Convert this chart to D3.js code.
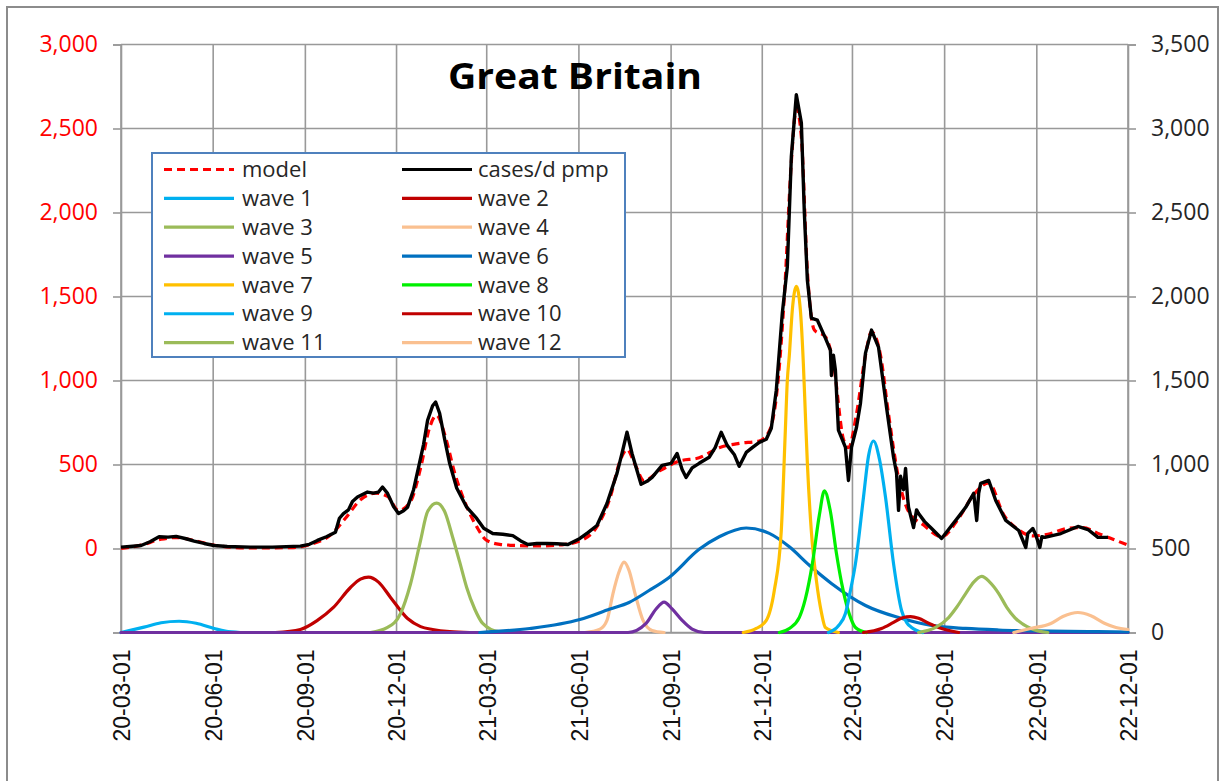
<!DOCTYPE html>
<html>
<head>
<meta charset="utf-8">
<script src="https://cdn.jsdelivr.net/npm/d3@7"></script>
<style>
  body { margin: 0; background: #fff; }
  svg { display: block; }
</style>
</head>
<body>
<svg id="chart" width="1225" height="781"></svg>
<script>
// ---- data -------------------------------------------------------------
const chartTitle = "Great Britain";
const dateTicks = ["2020-03-01","2020-06-01","2020-09-01","2020-12-01","2021-03-01","2021-06-01",
                   "2021-09-01","2021-12-01","2022-03-01","2022-06-01","2022-09-01","2022-12-01"];
const leftTicks = [0, 500, 1000, 1500, 2000, 2500, 3000];
const rightTicks = [0, 500, 1000, 1500, 2000, 2500, 3000, 3500];
const leftRange = [-500, 3000];
const rightRange = [0, 3500];

// daily cases per million (left axis)
const casesData = [
  ["2020-03-01",8],["2020-03-10",12],["2020-03-21",18],["2020-03-30",40],["2020-04-08",70],
  ["2020-04-17",68],["2020-04-25",72],["2020-05-05",58],["2020-05-13",44],["2020-05-23",30],
  ["2020-06-02",18],["2020-06-15",12],["2020-07-08",8],["2020-07-30",8],["2020-08-27",14],
  ["2020-09-05",25],["2020-09-13",48],["2020-09-22",70],["2020-10-01",97],["2020-10-05",180],
  ["2020-10-09",208],["2020-10-14",230],["2020-10-18",280],["2020-10-23",306],["2020-11-02",336],
  ["2020-11-08",330],["2020-11-13",336],["2020-11-17",366],["2020-11-22",328],["2020-11-28",250],
  ["2020-12-03",208],["2020-12-08",225],["2020-12-12",246],["2020-12-18",350],["2020-12-23",485],
  ["2020-12-28",620],["2021-01-01",763],["2021-01-06",850],["2021-01-09",872],["2021-01-13",805],
  ["2021-01-18",650],["2021-01-23",507],["2021-01-30",360],["2021-02-09",246],["2021-02-19",179],
  ["2021-02-26",120],["2021-03-07",89],["2021-03-17",85],["2021-03-27",77],["2021-04-04",45],
  ["2021-04-11",24],["2021-04-20",30],["2021-04-30",30],["2021-05-10",28],["2021-05-21",24],
  ["2021-06-02",60],["2021-06-10",95],["2021-06-19",137],["2021-06-29",268],["2021-07-09",447],
  ["2021-07-14",566],["2021-07-19",692],["2021-07-24",566],["2021-08-02",382],["2021-08-08",400],
  ["2021-08-13",423],["2021-08-23",495],["2021-09-01",507],["2021-09-07",566],["2021-09-12",470],
  ["2021-09-16",423],["2021-09-22",480],["2021-09-29",507],["2021-10-09",543],["2021-10-15",600],
  ["2021-10-21",692],["2021-10-27",614],["2021-11-03",560],["2021-11-08",489],["2021-11-15",572],
  ["2021-11-21",600],["2021-11-28",632],["2021-12-05",650],["2021-12-10",716],["2021-12-15",942],
  ["2021-12-21",1401],["2021-12-26",1676],["2021-12-30",2332],["2022-01-04",2701],["2022-01-09",2534],
  ["2022-01-12",1998],["2022-01-15",1598],["2022-01-19",1371],["2022-01-25",1359],["2022-02-02",1252],
  ["2022-02-07",1181],["2022-02-08",1030],["2022-02-10",1150],["2022-02-12",1061],["2022-02-15",704],
  ["2022-02-22",602],["2022-02-25",405],["2022-02-28",602],["2022-03-05",720],["2022-03-09",865],
  ["2022-03-14",1163],["2022-03-20",1300],["2022-03-27",1199],["2022-04-04",841],["2022-04-11",543],
  ["2022-04-14",450],["2022-04-16",227],["2022-04-18",430],["2022-04-21",350],["2022-04-23",477],
  ["2022-04-25",300],["2022-04-26",245],["2022-05-01",125],["2022-05-04",230],["2022-05-06",208],
  ["2022-05-12",160],["2022-05-19",119],["2022-05-29",60],["2022-06-08",137],["2022-06-15",190],
  ["2022-06-22",245],["2022-06-30",328],["2022-07-03",167],["2022-07-05",330],["2022-07-07",388],
  ["2022-07-15",405],["2022-07-22",286],["2022-08-01",167],["2022-08-14",107],["2022-08-21",6],
  ["2022-08-23",90],["2022-08-28",119],["2022-08-31",80],["2022-09-04",6],["2022-09-06",70],
  ["2022-09-09",66],["2022-09-25",89],["2022-10-12",131],["2022-10-22",113],["2022-11-01",66],
  ["2022-11-11",66]
];

// fitted model (left axis)
const modelData = [
  ["2020-03-01",0],["2020-03-21",20],["2020-04-10",55],["2020-04-25",65],["2020-05-15",45],
  ["2020-06-04",18],["2020-07-08",3],["2020-08-17",5],["2020-09-06",25],["2020-09-26",80],
  ["2020-10-11",180],["2020-10-26",290],["2020-11-10",330],["2020-11-22",310],["2020-12-03",226],
  ["2020-12-15",280],["2020-12-25",480],["2021-01-03",720],["2021-01-10",793],["2021-01-18",680],
  ["2021-01-28",450],["2021-02-09",250],["2021-02-19",130],["2021-03-01",48],["2021-03-14",25],
  ["2021-03-31",18],["2021-04-23",15],["2021-05-18",25],["2021-06-02",45],["2021-06-19",130],
  ["2021-07-02",300],["2021-07-12",520],["2021-07-19",590],["2021-07-27",500],["2021-08-05",404],
  ["2021-08-20",460],["2021-09-09",520],["2021-09-29",540],["2021-10-19",600],["2021-11-08",626],
  ["2021-11-28",640],["2021-12-08",700],["2021-12-15",900],["2021-12-23",1500],["2021-12-30",2300],
  ["2022-01-04",2620],["2022-01-09",2450],["2022-01-15",1650],["2022-01-22",1300],["2022-02-02",1260],
  ["2022-02-10",1100],["2022-02-20",650],["2022-02-25",600],["2022-03-05",800],["2022-03-14",1150],
  ["2022-03-20",1290],["2022-03-29",1150],["2022-04-06",800],["2022-04-16",420],["2022-04-26",220],
  ["2022-05-11",140],["2022-05-29",70],["2022-06-15",180],["2022-06-30",320],["2022-07-15",390],
  ["2022-07-30",200],["2022-08-14",110],["2022-08-28",75],["2022-09-12",85],["2022-10-02",120],
  ["2022-10-17",125],["2022-11-01",90],["2022-11-16",55],["2022-12-01",20]
];

// individual waves (right axis)
const wave1 = [["2020-03-01",0],["2020-03-24",32],["2020-04-10",58],["2020-04-28",67],["2020-05-15",55],
  ["2020-06-02",24],["2020-06-13",8],["2020-06-28",0]];
const wave2 = [["2020-08-02",0],["2020-08-27",18],["2020-09-13",72],["2020-09-29",149],["2020-10-16",268],
  ["2020-10-26",318],["2020-11-03",330],["2020-11-13",300],["2020-11-25",209],["2020-12-12",83],
  ["2020-12-25",35],["2021-01-06",18],["2021-01-23",5],["2021-02-12",0]];
const wave3 = [["2020-11-05",0],["2020-11-22",30],["2020-12-05",113],["2020-12-15",290],["2020-12-25",549],
  ["2021-01-01",720],["2021-01-10",770],["2021-01-18",720],["2021-01-26",567],["2021-02-02",420],
  ["2021-02-09",268],["2021-02-17",140],["2021-02-25",54],["2021-03-13",5],["2021-03-29",0]];
const wave4 = [["2021-06-07",0],["2021-06-22",20],["2021-06-29",72],["2021-07-05",232],["2021-07-11",360],
  ["2021-07-16",419],["2021-07-21",370],["2021-07-27",232],["2021-08-04",72],["2021-08-13",12],
  ["2021-08-25",0]];
const wave5 = [["2020-03-01",0],["2021-07-20",0],["2021-08-07",54],["2021-08-17",140],["2021-08-25",181],
  ["2021-09-02",140],["2021-09-12",72],["2021-09-22",20],["2021-10-04",0],["2022-12-01",0]];
const wave6 = [["2021-02-22",0],["2021-04-13",24],["2021-06-02",77],["2021-07-02",140],["2021-07-21",179],
  ["2021-08-10",250],["2021-08-30",328],["2021-09-29",495],["2021-10-19",570],["2021-11-15",622],
  ["2021-12-08",590],["2021-12-28",510],["2022-01-17",400],["2022-02-08",292],["2022-03-14",161],
  ["2022-04-16",89],["2022-05-19",42],["2022-06-22",24],["2022-07-25",15],["2022-08-26",10],
  ["2022-11-01",5],["2022-12-01",3]];
const wave7 = [["2021-11-12",0],["2021-11-25",24],["2021-12-05",72],["2021-12-13",250],["2021-12-20",608],
  ["2021-12-24",1200],["2021-12-26",1500],["2021-12-28",1650],["2021-12-31",1920],["2022-01-04",2060],
  ["2022-01-08",1920],["2022-01-11",1600],["2022-01-13",1300],["2022-01-15",1008],["2022-01-19",600],
  ["2022-01-24",310],["2022-01-29",120],["2022-02-02",30],["2022-02-15",0]];
const wave8 = [["2021-12-18",0],["2021-12-28",24],["2022-01-07",90],["2022-01-13",200],["2022-01-20",410],
  ["2022-01-27",700],["2022-02-01",843],["2022-02-07",720],["2022-02-13",471],["2022-02-18",300],
  ["2022-02-22",191],["2022-02-27",90],["2022-03-04",30],["2022-03-15",0]];
const wave9 = [["2022-02-05",0],["2022-02-15",40],["2022-02-22",113],["2022-02-27",250],["2022-03-04",410],
  ["2022-03-12",805],["2022-03-17",1050],["2022-03-22",1140],["2022-03-28",1030],["2022-04-03",805],
  ["2022-04-11",410],["2022-04-19",131],["2022-04-24",60],["2022-04-29",30],["2022-05-10",0]];
const wave10 = [["2022-03-12",0],["2022-03-30",24],["2022-04-11",60],["2022-04-20",88],["2022-04-28",95],
  ["2022-05-06",85],["2022-05-16",55],["2022-05-26",30],["2022-06-15",0]];
const wave11 = [["2022-05-06",0],["2022-05-23",30],["2022-06-05",89],["2022-06-13",150],["2022-06-22",232],
  ["2022-06-30",300],["2022-07-08",334],["2022-07-16",300],["2022-07-25",232],["2022-08-02",150],
  ["2022-08-10",89],["2022-08-26",24],["2022-09-12",0]];
const wave12 = [["2022-08-09",0],["2022-08-26",24],["2022-09-15",54],["2022-09-27",95],["2022-10-12",119],
  ["2022-10-25",100],["2022-11-08",54],["2022-11-19",30],["2022-12-01",18]];

const waveSeries = [wave1, wave2, wave3, wave4, wave5, wave6, wave7, wave8, wave9, wave10, wave11, wave12];
const seriesNames = ["model", "cases/d pmp", "wave 1", "wave 2", "wave 3", "wave 4", "wave 5", "wave 6",
                     "wave 7", "wave 8", "wave 9", "wave 10", "wave 11", "wave 12"];

// ---- styling ----------------------------------------------------------
const waveColors = ["#00B0F0", "#C00000", "#9BBB59", "#FAC090", "#7030A0", "#0070C0",
                    "#FFC000", "#00F000", "#00B0F0", "#C00000", "#9BBB59", "#FAC090"];
const modelColor = "#FF0000";
const casesColor = "#000000";
const gridColor = "#999999";
const textColor = "#262626";
const numFont = "'Open Sans', 'Noto Sans', sans-serif";
const dateFont = "'Liberation Sans', Arial, sans-serif";

// ---- layout & scales --------------------------------------------------
const parse = d3.timeParse("%Y-%m-%d");
const plot = { left: 121, right: 1128, top: 44.5, bottom: 632.5 };

const svg = d3.select("#chart");
const tickDates = dateTicks.map(parse);

const x = d3.scaleTime()
  .domain([tickDates[0], tickDates[tickDates.length - 1]])
  .range([plot.left, plot.right]);
const yL = d3.scaleLinear().domain(leftRange).range([plot.bottom, plot.top]);
const yR = d3.scaleLinear().domain(rightRange).range([plot.bottom, plot.top]);

// chart frame
svg.append("rect")
  .attr("x", 7).attr("y", 7).attr("width", 1211).attr("height", 800)
  .attr("fill", "#fff").attr("stroke", "#8c8c8c").attr("stroke-width", 2);

// gridlines
const leftTickVals = [leftRange[0], ...leftTicks];
const grid = svg.append("g").attr("stroke", gridColor).attr("stroke-width", 1.6);
grid.selectAll("line.gh").data(leftTickVals).join("line").attr("class", "gh")
  .attr("x1", plot.left).attr("x2", plot.right)
  .attr("y1", d => yL(d)).attr("y2", d => yL(d));
grid.selectAll("line.gv").data(tickDates).join("line").attr("class", "gv")
  .attr("x1", d => x(d)).attr("x2", d => x(d))
  .attr("y1", plot.top).attr("y2", plot.bottom);

// axes
const fmt = d3.format(",");
function styleAxis(g) {
  g.select(".domain").attr("stroke", gridColor).attr("stroke-width", 1.6);
  g.selectAll(".tick line").attr("stroke", gridColor).attr("stroke-width", 1.6);
}

svg.append("g")
  .attr("transform", `translate(${plot.left},0)`)
  .call(d3.axisLeft(yL).tickValues(leftTickVals).tickSize(8).tickPadding(15)
    .tickFormat(d => d < 0 ? "" : fmt(d)))
  .call(styleAxis)
  .call(g => g.selectAll("text").attr("fill", "#FF0000")
    .attr("font-family", numFont).attr("font-size", 23));

svg.append("g")
  .attr("transform", `translate(${plot.right},0)`)
  .call(d3.axisRight(yR).tickValues(rightTicks).tickSize(8).tickPadding(15).tickFormat(fmt))
  .call(styleAxis)
  .call(g => g.selectAll("text").attr("fill", textColor)
    .attr("font-family", numFont).attr("font-size", 23));

const fmtDate = d3.timeFormat("%y-%m-%d");
svg.append("g")
  .attr("transform", `translate(0,${plot.bottom})`)
  .call(d3.axisBottom(x).tickValues(tickDates).tickSize(0).tickFormat(fmtDate))
  .call(styleAxis)
  .call(g => g.selectAll("text")
    .attr("fill", "#111")
    .attr("font-family", dateFont).attr("font-size", 23)
    .attr("text-anchor", "end")
    .attr("transform", "rotate(-90)")
    .attr("x", -17).attr("y", 0).attr("dy", "0.36em"));

// series
const waveLine = d3.line().curve(d3.curveMonotoneX)
  .x(d => x(parse(d[0]))).y(d => yR(d[1]));
const modelLine = d3.line().curve(d3.curveMonotoneX)
  .x(d => x(parse(d[0]))).y(d => yL(d[1]));
const casesLine = d3.line()
  .x(d => x(parse(d[0]))).y(d => yL(d[1]));

const wavesG = svg.append("g").attr("fill", "none").attr("stroke-width", 3.2)
  .attr("stroke-linejoin", "round").attr("stroke-linecap", "round");
waveSeries.forEach((w, i) => {
  wavesG.append("path").datum(w).attr("d", waveLine).attr("stroke", waveColors[i]);
});

svg.append("path").datum(modelData).attr("d", modelLine)
  .attr("fill", "none").attr("stroke", modelColor).attr("stroke-width", 3.2)
  .attr("stroke-dasharray", "8,5");

svg.append("path").datum(casesData).attr("d", casesLine)
  .attr("fill", "none").attr("stroke", casesColor).attr("stroke-width", 3.4)
  .attr("stroke-linejoin", "round");

// title
svg.append("text")
  .attr("x", 575).attr("y", 89)
  .attr("text-anchor", "middle")
  .attr("font-family", numFont).attr("font-weight", "bold").attr("font-size", 35)
  .attr("textLength", 254).attr("lengthAdjust", "spacingAndGlyphs")
  .attr("fill", "#000")
  .text(chartTitle);

// legend
const legend = svg.append("g");
legend.append("rect")
  .attr("x", 152).attr("y", 153).attr("width", 473).attr("height", 204)
  .attr("fill", "#fff").attr("stroke", "#4F81BD").attr("stroke-width", 2);

const legendStyles = [
  { color: modelColor, dash: "8,5" },
  { color: casesColor, dash: null },
  ...waveColors.map(c => ({ color: c, dash: null }))
];
const colX = [164, 402];
const textX = [242, 478];
seriesNames.forEach((name, i) => {
  const col = i % 2, row = Math.floor(i / 2);
  const cy = 169.5 + row * 28.85;
  const st = legendStyles[i];
  legend.append("line")
    .attr("x1", colX[col]).attr("x2", colX[col] + 70)
    .attr("y1", cy).attr("y2", cy)
    .attr("stroke", st.color).attr("stroke-width", 3.2)
    .attr("stroke-dasharray", st.dash);
  legend.append("text")
    .attr("x", textX[col]).attr("y", cy).attr("dy", "0.35em")
    .attr("font-family", numFont).attr("font-size", 22)
    .attr("fill", textColor)
    .text(name);
});
</script>
</body>
</html>
